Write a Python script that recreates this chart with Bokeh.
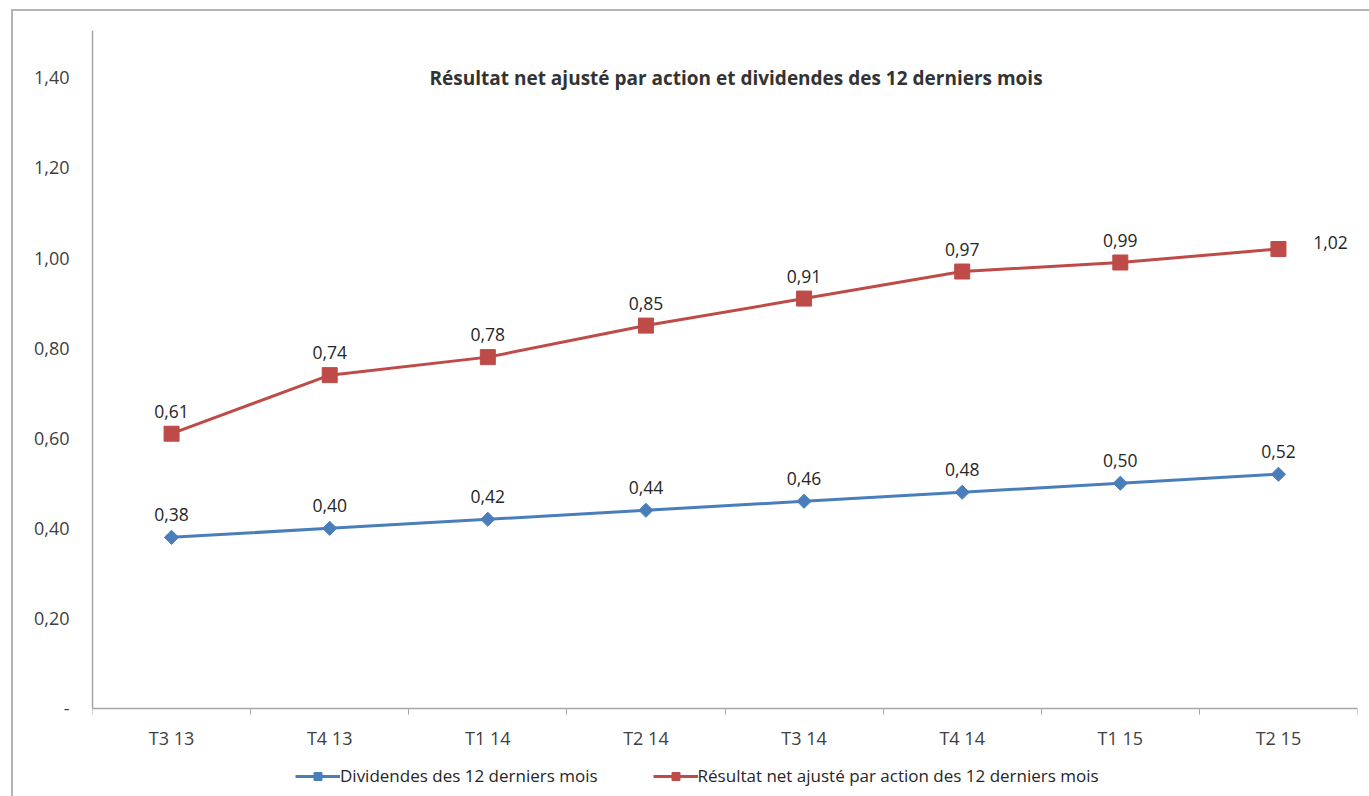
from bokeh.plotting import figure
from bokeh.models import (ColumnDataSource, FactorRange, Range1d, LinearAxis, CategoricalAxis,
                          FixedTicker, LabelSet, Label, Legend, LegendItem)
from bokeh.embed import file_html
from bokeh.resources import INLINE
from bokeh.core.properties import value

categories = ["T3 13", "T4 13", "T1 14", "T2 14", "T3 14", "T4 14", "T1 15", "T2 15"]
dividendes = [0.38, 0.40, 0.42, 0.44, 0.46, 0.48, 0.50, 0.52]
resultat = [0.61, 0.74, 0.78, 0.85, 0.91, 0.97, 0.99, 1.02]
dividendes_labels = ["0,38", "0,40", "0,42", "0,44", "0,46", "0,48", "0,50", "0,52"]
resultat_labels = ["0,61", "0,74", "0,78", "0,85", "0,91", "0,97", "0,99", "1,02"]
y_ticks = [0.0, 0.2, 0.4, 0.6, 0.8, 1.0, 1.2, 1.4]
y_tick_labels = ["-", "0,20", "0,40", "0,60", "0,80", "1,00", "1,20", "1,40"]
title_text = "Résultat net ajusté par action et dividendes des 12 derniers mois"
legend_div = "Dividendes des 12 derniers mois"
legend_res = "Résultat net ajusté par action des 12 derniers mois"

FONT = "Open Sans"
BLUE = "#4A7EBB"
RED = "#BE4B48"
AXIS_GREY = "#a6a6a6"
Y_TOP = 1.505
Y_BOTTOM = -0.1953   # room under the x axis for its labels and the legend

p = figure(x_range=FactorRange(*categories), y_range=Range1d(Y_BOTTOM, Y_TOP),
           frame_width=1265, frame_height=766,
           output_backend="svg", toolbar_location=None,
           x_axis_location=None, y_axis_location=None,
           min_border_left=79, min_border_right=12, min_border_top=19, min_border_bottom=0)
p.styles = {"margin-left": "11px", "margin-top": "9px",
            "border-left": "2px solid #b4b4b4", "border-top": "2px solid #b4b4b4"}
p.outline_line_color = None
p.xgrid.visible = False
p.ygrid.visible = False
p.background_fill_color = "white"
p.border_fill_color = "white"

# y axis (line only over the data span)
yaxis = LinearAxis(ticker=FixedTicker(ticks=y_ticks), bounds=(0, Y_TOP),
                   major_label_overrides={t: l for t, l in zip(y_ticks, y_tick_labels)})
yaxis.axis_line_color = AXIS_GREY
yaxis.axis_line_width = 1.5
yaxis.major_tick_line_color = None
yaxis.minor_tick_line_color = None
yaxis.major_label_standoff = 17
yaxis.major_label_text_font = FONT
yaxis.major_label_text_font_size = "18px"
yaxis.major_label_text_color = "#404040"
p.add_layout(yaxis, "left")

# x axis at y = 0: tick marks at the category boundaries (synthetic coordinates 0..n)
n = len(categories)
bounds = list(range(n + 1))
tick_axis = LinearAxis(ticker=FixedTicker(ticks=bounds), fixed_location=0,
                       major_label_overrides={b: "" for b in bounds})
tick_axis.axis_line_color = AXIS_GREY
tick_axis.axis_line_width = 1.5
tick_axis.major_tick_line_color = AXIS_GREY
tick_axis.major_tick_in = 0
tick_axis.major_tick_out = 6
tick_axis.minor_tick_line_color = None
tick_axis.major_label_text_font_size = "1px"
tick_axis.major_label_standoff = 0
p.add_layout(tick_axis, "below")

cat_axis = CategoricalAxis(fixed_location=0)
cat_axis.axis_line_color = None
cat_axis.major_tick_line_color = None
cat_axis.major_tick_in = 0
cat_axis.major_tick_out = 0
cat_axis.major_label_standoff = 17
cat_axis.major_label_text_font = FONT
cat_axis.major_label_text_font_size = "18px"
cat_axis.major_label_text_color = "#404040"
p.add_layout(cat_axis, "below")

src_div = ColumnDataSource(dict(x=categories, y=dividendes, lab=dividendes_labels,
                                xo=[0] * n, yo=[16] * n))
src_res = ColumnDataSource(dict(x=categories, y=resultat, lab=resultat_labels,
                                xo=[0] * (n - 1) + [52], yo=[16] * (n - 1) + [0]))

l1 = p.line("x", "y", source=src_div, line_color=BLUE, line_width=3)
m1 = p.scatter("x", "y", source=src_div, marker="square", angle=0.785398, size=10,
               fill_color=BLUE, line_color=BLUE)
l2 = p.line("x", "y", source=src_res, line_color=RED, line_width=3)
m2 = p.scatter("x", "y", source=src_res, marker="square", size=15, fill_color=RED, line_color=RED)

for src in (src_div, src_res):
    ls = LabelSet(x="x", y="y", text="lab", source=src, x_offset="xo", y_offset="yo",
                  text_align="center", text_baseline="bottom",
                  text_font=value(FONT), text_font_size="17.5px", text_color="#262626")
    p.add_layout(ls)

title = Label(x=4.07, y=1.40, text=title_text,
              text_align="center", text_baseline="middle",
              text_font=FONT, text_font_size="19px", text_font_style="bold",
              text_color="#333333")
p.add_layout(title)

legend = Legend(items=[LegendItem(label=legend_div, renderers=[l1, m1]),
                       LegendItem(label=legend_res, renderers=[l2, m2])],
                orientation="horizontal", location=(203, 9),
                glyph_width=45, glyph_height=20, spacing=55, label_standoff=0,
                label_text_font=FONT, label_text_font_size="17px", label_text_color="#262626",
                border_line_color=None, background_fill_alpha=0, margin=0, padding=3)
p.add_layout(legend, "center")

open("out.html", "w").write(file_html(p, INLINE))
